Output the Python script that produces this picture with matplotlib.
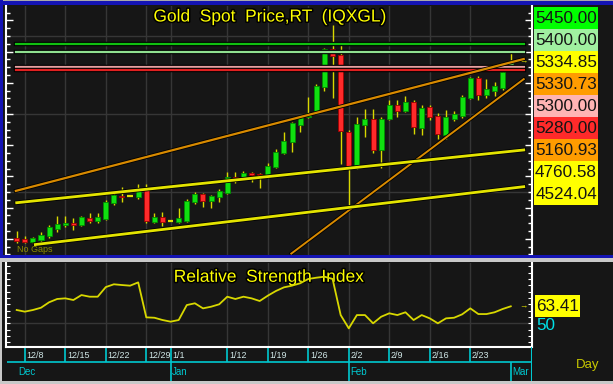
import matplotlib
matplotlib.use('Agg')
import matplotlib.pyplot as plt
import matplotlib.patheffects as pe
from matplotlib.patches import Rectangle
import numpy as np
import pandas as pd

# ----------------------------
# Data
# ----------------------------
dates = pd.bdate_range('2025-12-05', '2026-03-02')

opens = [4202, 4196, 4180, 4192, 4218, 4263, 4289, 4301, 4289, 4333,
         4314, 4327, 4430, 4474, 4471, 4468, 4519, 4308, 4340, 4314,
         4308, 4314, 4436, 4487, 4442, 4468, 4494, 4596, 4583, 4622,
         4616, 4596, 4660, 4750, 4821, 4930, 4981, 5007, 5173, 5417,
         5378, 4885, 4654, 4930, 4968, 4769, 4968, 5058, 5019, 5077,
         4910, 5045, 4987, 4866, 4968, 4987, 5103, 5231, 5122, 5148,
         5167, 5282]
highs = [4250, 4218, 4212, 4244, 4289, 4346, 4346, 4333, 4343, 4366,
         4366, 4449, 4494, 4532, 4471, 4551, 4551, 4366, 4372, 4314,
         4398, 4455, 4500, 4494, 4481, 4519, 4628, 4628, 4635, 4628,
         4622, 4686, 4776, 4885, 4949, 4994, 5109, 5192, 5423, 5571,
         5442, 4898, 4981, 5032, 5032, 4981, 5090, 5090, 5115, 5090,
         5058, 5058, 5007, 5026, 5019, 5122, 5237, 5244, 5224, 5205,
         5282, 5391]
lows = [4173, 4173, 4173, 4173, 4205, 4244, 4276, 4257, 4285, 4301,
        4301, 4321, 4417, 4436, 4471, 4455, 4301, 4301, 4282, 4314,
        4301, 4308, 4423, 4404, 4398, 4436, 4487, 4558, 4577, 4564,
        4526, 4590, 4654, 4744, 4757, 4885, 4974, 5000, 5148, 5103,
        4680, 4398, 4648, 4853, 4750, 4654, 4962, 4981, 5013, 4872,
        4866, 4962, 4840, 4840, 4955, 4974, 5096, 5090, 5103, 5115,
        5154, 5282]
closes = [4186, 4180, 4205, 4225, 4276, 4295, 4301, 4289, 4340, 4314,
          4340, 4436, 4481, 4468, 4471, 4526, 4314, 4340, 4308, 4314,
          4333, 4442, 4487, 4442, 4474, 4507, 4596, 4577, 4622, 4609,
          4596, 4667, 4757, 4827, 4942, 4981, 5007, 5180, 5417, 5372,
          4891, 4660, 4936, 4968, 4769, 4968, 5058, 5019, 5077, 4914,
          5039, 4981, 4872, 4981, 5000, 5109, 5231, 5122, 5160, 5180,
          5269, 5334.85]

rsi = [60.5, 59.2, 60.5, 62.3, 66.6, 69.2, 69.7, 68.4, 72.3, 71.0,
       71.0, 78.6, 80.8, 80.2, 79.7, 82.3, 54.7, 54.4, 52.6, 51.3,
       52.6, 64.4, 65.8, 61.8, 63.1, 65.0, 71.0, 69.2, 71.0, 69.7,
       67.6, 71.8, 75.5, 78.4, 79.7, 81.6, 85.0, 86.0, 86.8, 85.0,
       56.5, 46.0, 56.5, 56.5, 50.0, 55.2, 57.9, 56.5, 58.7, 52.6,
       56.5, 53.9, 50.0, 53.9, 54.4, 57.1, 61.8, 57.3, 57.3, 58.7,
       61.3, 63.41]

# horizontal level lines
levels = [5450, 5400, 5300, 5280]
level_colors = ['#10c010', '#90e090', '#e8a0a0', '#e02020']

# trend lines: (start bar, start price, end bar, end price)
trend_x0 = [-0.1, 33.9, 0.0, 2.3]
trend_p0 = [4507, 4105, 4431, 4163]
trend_x1 = [62.6, 62.6, 62.6, 62.6]
trend_p1 = [5352.3, 5223.3, 4769.2, 4533.9]
trend_colors = ['#d88a00', '#d88a00', '#e4e400', '#e4e400']
trend_widths = [1.6, 1.4, 2.0, 2.0]

# stacked value labels on the right
label_vals = ['5450.00', '5400.00', '5334.85', '5330.73', '5300.00',
              '5280.00', '5160.93', '4760.58', '4524.04']
label_colors = ['#00ff00', '#a0f0a0', '#ffff00', '#ff9c00', '#ffb4b4',
                '#ff2a2a', '#ff9c00', '#ffff00', '#ffff00']

week_labels = ['12/8', '12/15', '12/22', '12/29', '1/1', '1/12', '1/19',
               '1/26', '2/2', '2/9', '2/16', '2/23']
week_dates = ['2025-12-08', '2025-12-15', '2025-12-22', '2025-12-29', '2026-01-01',
              '2026-01-12', '2026-01-19', '2026-01-26', '2026-02-02', '2026-02-09',
              '2026-02-16', '2026-02-23']
month_labels = ['Dec', 'Jan', 'Feb', 'Mar']
month_dates = ['2025-12-05', '2026-01-01', '2026-02-02', '2026-03-02']

# ----------------------------
# Layout helpers (pixel coordinates, origin top-left)
# ----------------------------
W, H = 613, 384
BG = '#161616'
GRID = '#363636'
CYAN = '#00c8d0'
FONT = ['Liberation Sans', 'DejaVu Sans']

fig = plt.figure(figsize=(W / 100, H / 100), dpi=100, facecolor=BG)


def band(x0, y0, x1, y1, color):
    fig.add_artist(Rectangle((x0 / W, 1 - y1 / H), (x1 - x0) / W, (y1 - y0) / H,
                             transform=fig.transFigure, color=color, lw=0, zorder=10))


def ftext(x, y, s, **kw):
    return fig.text(x / W, 1 - y / H, s, family=FONT, **kw)


def axes_px(x0, y0, x1, y1):
    return fig.add_axes([x0 / W, 1 - y1 / H, (x1 - x0) / W, (y1 - y0) / H])


xpos = np.arange(len(dates))
date_idx = {d.strftime('%Y-%m-%d'): i for i, d in enumerate(dates)}
week_x = [date_idx[d] for d in week_dates]
month_x = [date_idx[d] for d in month_dates]
XLIM = (-1.32, 63.62)

# ----------------------------
# Price panel
# ----------------------------
ax = axes_px(6, 6, 532, 255)
ax.set_facecolor(BG)
ax.set_xlim(*XLIM)
ax.set_ylim(4096, 5692)

for p in [4500, 5000, 5500]:
    ax.axhline(p, color=GRID, lw=1, zorder=1)
for wx in week_x:
    ax.axvline(wx, color=GRID, lw=1, zorder=1)

# candles
ax.vlines(xpos, lows, highs, color='#d8d800', lw=1, zorder=3)
for i, (o, c) in enumerate(zip(opens, closes)):
    if o == c:
        ax.hlines(o, i - 0.35, i + 0.35, color='#e0e000', lw=1.6, zorder=4)
        continue
    if i == len(opens) - 1:
        fc, ec = '#70e070', '#40b040'
    elif c > o:
        fc, ec = '#10e010', '#009000'
    else:
        fc, ec = '#ff2a2a', '#a00000'
    ax.bar(i, abs(c - o), bottom=min(o, c), width=0.62, color=fc,
           edgecolor=ec, lw=0.6, zorder=4)

stroke = [pe.Stroke(linewidth=3.2, foreground='#000000'), pe.Normal()]
for lv, col in zip(levels, level_colors):
    ax.plot([trend_x0[0], trend_x1[0]], [lv, lv], color=col, lw=1.6,
            zorder=5, path_effects=stroke)
for x0, p0, x1, p1, col, lw in zip(trend_x0, trend_p0, trend_x1, trend_p1,
                                   trend_colors, trend_widths):
    ax.plot([x0, x1], [p0, p1], color=col, lw=lw, zorder=5,
            path_effects=[pe.Stroke(linewidth=lw + 1.2, foreground='#000000'), pe.Normal()])

for s in ['top', 'bottom']:
    ax.spines[s].set_visible(False)
for s in ['left', 'right']:
    ax.spines[s].set_color('white')
    ax.spines[s].set_linewidth(1.5)
ax.set_xticks([])
ax.set_yticks(np.arange(4200, 5700, 200))
ax.set_yticks(np.arange(4100, 5700, 50), minor=True)
ax.tick_params(axis='y', which='both', direction='in', colors='white',
               left=True, right=True, labelleft=False, labelright=False, width=1)
ax.tick_params(axis='y', which='major', length=5)
ax.tick_params(axis='y', which='minor', length=3)

# ----------------------------
# RSI panel
# ----------------------------
ax2 = axes_px(6, 263, 532, 347)
ax2.set_facecolor(BG)
ax2.set_xlim(*XLIM)
ax2.set_ylim(31.3, 97.6)
ax2.axhline(50, color=GRID, lw=1, zorder=1)
for wx in week_x:
    ax2.axvline(wx, color=GRID, lw=1, zorder=1)
ax2.plot(xpos, rsi, color='#d8d800', lw=1.3, zorder=5)
ax2.spines['top'].set_visible(False)
for s in ['left', 'right', 'bottom']:
    ax2.spines[s].set_color('white')
    ax2.spines[s].set_linewidth(1.5)
ax2.set_xticks([])
ax2.set_yticks(np.arange(35, 97, 5))
ax2.tick_params(axis='y', direction='in', colors='white', length=3,
                left=True, right=True, labelleft=False, labelright=False)

# ----------------------------
# Date axis rows
# ----------------------------
ax3 = axes_px(6, 347, 532, 381)
ax3.set_facecolor(BG)
ax3.set_xlim(*XLIM)
ax3.set_ylim(34, 0)
ax3.axis('off')
ax3.hlines(15, XLIM[0] + 0.15, XLIM[1], color=CYAN, lw=1.2)
ax3.vlines(week_x, 1, 15, color=CYAN, lw=1.2)
ax3.vlines(month_x[1:], 15, 34, color=CYAN, lw=1.2)
ax3.vlines(XLIM[1] - 0.05, 0, 34, color=CYAN, lw=1.5)
for wx, lab in zip(week_x, week_labels):
    ax3.text(wx + 0.2, 8.5, lab, color='#cfe6e6', fontsize=6.5, family=FONT,
             ha='left', va='center')
for mx, lab in zip(month_x, month_labels):
    ax3.text(mx + 0.2, 25, lab, color=CYAN, fontsize=7, family=FONT,
             ha='left', va='center')

# ----------------------------
# Titles and labels
# ----------------------------
outline = [pe.withStroke(linewidth=2.2, foreground='black')]
ftext(270, 17, 'Gold  Spot  Price,RT  (IQXGL)', color='#ffff00', fontsize=12.5,
      ha='center', va='center', path_effects=outline, zorder=6)
ax2.text(0.5, 0.83, 'Relative  Strength  Index', transform=ax2.transAxes,
         color='#ffff00', fontsize=12.5, family=FONT, ha='center', va='center',
         path_effects=outline, zorder=3)
ftext(17, 249, 'No Gaps', color='#8c8c00', fontsize=6.5, ha='left', va='center')

# stacked value boxes
box_top, box_h = 7, 22
for k, (txt, col) in enumerate(zip(label_vals, label_colors)):
    y0 = box_top + k * box_h
    fig.add_artist(Rectangle((534 / W, 1 - (y0 + box_h) / H), 64 / W, box_h / H,
                             transform=fig.transFigure, color=col, lw=0, zorder=5))
    ftext(566, y0 + box_h / 2 + 0.5, txt, color='#141414', fontsize=12.3,
          ha='center', va='center', zorder=6)

ftext(523, 62, '\u2192', color='#e0e000', fontsize=6, ha='center', va='center')
ftext(523, 307, '\u2192', color='#e0e000', fontsize=6, ha='center', va='center')
fig.add_artist(Rectangle((535 / W, 1 - 317 / H), 45 / W, 22 / H,
                         transform=fig.transFigure, color='#ffff00', lw=0, zorder=5))
ftext(557.5, 306.5, f'{rsi[-1]:.2f}', color='#141414', fontsize=12.3,
      ha='center', va='center', zorder=6)
ftext(536, 326, '50', color='#00e0e8', fontsize=12.3, ha='left', va='center')
ftext(588, 365, 'Day', color='#c8c800', fontsize=9.5, ha='center', va='center')

# window frame bands
band(0, 0, W, 1, '#a8a8a8')
band(0, 1, W, 5, '#1414b4')
band(0, 0, 2.5, 258, '#1414b4')
band(0, 254.5, W, 258, '#1414b4')
band(0, 258, W, 262, '#c8c8c8')
band(0, 262, 2, H, '#c8c8c8')
band(0, 381, W, H, '#c8c8c8')

fig.savefig('out.png', dpi=100, facecolor=fig.get_facecolor())
